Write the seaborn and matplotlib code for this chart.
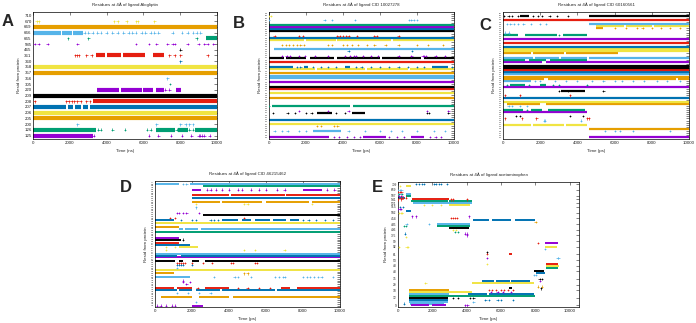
import matplotlib
matplotlib.use("Agg")
import matplotlib.pyplot as plt
import pandas as pd
import seaborn as sns

sns.set_theme(style="white")
plt.rcParams['font.family'] = ['Liberation Sans', 'DejaVu Sans']

# gnuplot default line colours
PAL = dict(P="#9400D3", G="#009E73", L="#56B4E9", O="#E69F00",
           Y="#F0E442", B="#0072B2", R="#E51E10", K="#000000")
CYCLE = "PGLOYBRK"
TIME_TICKS = [0, 2000, 4000, 6000, 8000, 10000]

# ---------------- Panel A : Alogliptin ----------------
A_TITLE = "Residues at 4Å of ligand Alogliptin"
A_RES = [125, 126, 200, 205, 206, 207, 208, 209, 220, 305, 356,
         357, 358, 360, 361, 465, 585, 665, 666, 669, 670, 710]
A_SEGS = {
    125: [(0, 3250)],
    126: [(0, 3400), (6700, 7700), (7900, 8400), (8800, 10000)],
    205: [(0, 10000)],
    206: [(0, 10000)],
    207: [(0, 1800), (1900, 2200), (2300, 2600), (2700, 3000), (3100, 10000)],
    208: [(3250, 10000)],
    209: [(0, 10000)],
    220: [(3500, 4700), (4800, 5900), (6000, 6500), (6700, 7100), (7750, 8050)],
    357: [(0, 10000)],
    358: [(0, 10000)],
    361: [(3400, 3900), (4000, 4800), (4900, 6100), (6500, 7100)],
    665: [(9400, 10000)],
    666: [(0, 1500), (1600, 2100), (2200, 2700)],
    669: [(0, 10000)],
}
A_PTS = {
    125: [3300, 6300, 6800, 7500, 8100, 8600, 9000, 9100, 9200, 9300, 9600],
    126: [3550, 3700, 4300, 5000, 6200, 6400, 7800, 8500, 8700],
    200: [2400, 6700, 8000, 8300, 8500, 8700],
    208: [100, 1800, 1950, 2100, 2250, 2400, 2600, 2900, 3100],
    220: [7200, 7400],
    305: [7450],
    356: [7300],
    360: [8000],
    361: [2300, 2400, 2500, 2900, 3200, 7400, 7700, 8000, 9500],
    465: [8000],
    585: [100, 300, 800, 2400, 5600, 6300, 6700, 7300, 7600, 7700, 8400,
          9000, 9300, 9500, 9800],
    665: [1900, 3000, 8900],
    666: [2800, 3000, 3250, 3500, 3700, 4000, 4300, 4600, 4900, 5200, 5400,
          5600, 5900, 6100, 6400, 6600, 6800, 7600, 8100, 8400, 8700, 8900, 9100],
    670: [200, 300, 4400, 4600, 5100, 5600, 5700, 6600],
}

# ---------------- Panel B : CID 10027278 ----------------
B_TITLE = "Residues at 4Å of ligand CID 10027278"
B_RES = [125, 126, 127, 128, 129, 130, 131, 132, 133, 134,
         200, 201, 202, 203, 204, 205, 206, 207, 208, 209,
         210, 211, 212, 218, 219, 220, 221, 222, 223, 224,
         225, 226, 227, 228, 229, 230, 231, 232, 301, 302,
         303, 305, 306, 307, 355, 356, 357, 358, 359, 360,
         361, 362, 363, 364, 365, 585, 666]
B_COL = {125: 'P', 128: 'L', 130: 'O', 131: 'Y', 133: 'B', 201: 'K', 202: 'P',
         204: 'G', 208: 'O', 210: 'Y', 212: 'R', 218: 'K', 220: 'P', 222: 'L',
         223: 'L', 224: 'O', 226: 'Y', 227: 'B', 229: 'R', 231: 'K', 232: 'P',
         302: 'B', 303: 'L', 306: 'O', 355: 'Y', 356: 'B', 357: 'R', 359: 'K',
         360: 'B', 361: 'P', 362: 'G', 364: 'L', 585: 'Y'}
B_SEGS = {
    125: [(0, 3250), (5100, 6300), (7700, 8400)],
    128: [(2400, 3900)],
    131: [(0, 10000)],
    133: [(0, 10000)],
    201: [(2600, 3400), (4500, 5200)],
    204: [(150, 4400), (4550, 10000)],
    208: [(0, 10000)],
    210: [(0, 10000)],
    212: [(0, 10000)],
    218: [(0, 10000)],
    220: [(0, 10000)],
    222: [(0, 10000)],
    223: [(0, 10000)],
    224: [(0, 10000)],
    226: [(0, 2500), (2600, 5200), (5300, 7500), (7600, 10000)],
    227: [(0, 1300), (1900, 2100), (4100, 4400), (8800, 9700)],
    229: [(0, 10000)],
    231: [(0, 800), (900, 2000), (2200, 3500), (3700, 6000), (6100, 8200), (8400, 10000)],
    303: [(250, 10000)],
    355: [(0, 1900), (2000, 3600), (3700, 6600), (6700, 10000)],
    356: [(0, 10000)],
    359: [(0, 10000)],
    360: [(0, 10000)],
    361: [(0, 10000)],
    362: [(0, 10000)],
}
B_PTS = {
    125: [3500, 3800, 4200, 4600, 4900, 6500, 6900, 7300, 8700, 9000, 9300],
    128: [300, 700, 1000, 1600, 2000, 4300, 5200, 6000, 6600, 7200, 8000, 8900, 9500],
    130: [2600, 2800, 3500, 3700],
    201: [200, 1000, 1400, 2000, 2300, 3600, 4100, 8550, 8650, 9700],
    202: [1600, 3200, 4300, 8550, 9700],
    204: [0],
    227: [1500, 1700, 2400, 2800, 3200, 3600, 4700, 5000, 5500, 6000, 6500,
          7000, 7500, 8000, 8400, 9900],
    232: [700, 950, 1150, 1600, 1950, 2500, 3200, 4100, 4400, 4600, 4700, 5100,
          5500, 5900, 7000, 7700, 8300, 8400, 8500, 9000, 9500],
    302: [4300, 7750],
    306: [700, 900, 1100, 1300, 1500, 1700, 1900, 3200, 3400, 4000, 4200, 4500,
          4800, 5300, 5700, 6300, 7000, 8000, 8600, 9400],
    357: [300, 1600, 1850, 3700, 3850, 4000, 4150, 4300, 4750, 5700, 5850, 7000],
    364: [0, 3000, 3400, 4650, 7550, 7700, 7850, 8000],
    585: [0, 100],
}

# ---------------- Panel C : CID 60160561 ----------------
C_TITLE = "Residues at 4Å of ligand CID 60160561"
C_RES = [125, 126, 127, 128, 129, 130, 131, 132, 133, 134,
         135, 198, 199, 200, 201, 202, 203, 204, 205, 206,
         207, 208, 209, 210, 211, 212, 213, 214, 215, 216,
         217, 218, 219, 220, 221, 222, 223, 224, 225, 226,
         227, 228, 229, 230, 231, 301, 302, 303, 304, 305,
         306, 355, 356, 357, 358, 359, 360, 361, 585, 741]
C_COL = {125: 'P', 128: 'L', 129: 'O', 131: 'Y', 133: 'L', 134: 'R', 135: 'K',
         199: 'P', 200: 'G', 202: 'L', 203: 'O', 204: 'Y', 206: 'B', 207: 'R',
         209: 'K', 211: 'P', 212: 'G', 214: 'L', 215: 'O', 216: 'O', 217: 'L',
         218: 'B', 219: 'R', 220: 'K', 221: 'K', 223: 'P', 224: 'G', 225: 'L',
         227: 'O', 228: 'Y', 229: 'Y', 230: 'B', 301: 'R', 303: 'P', 305: 'G',
         306: 'L', 356: 'O', 357: 'Y', 358: 'L', 360: 'R', 585: 'K'}
C_SEGS = {
    125: [(4600, 10000)],
    129: [(4600, 10000)],
    131: [(0, 1500), (1600, 3300), (3400, 4500)],
    199: [(0, 4500)],
    200: [(0, 1100), (1500, 2100), (2400, 4400)],
    203: [(200, 2000), (2300, 10000)],
    204: [(0, 10000)],
    206: [(0, 10000)],
    209: [(3100, 4400)],
    211: [(0, 10000)],
    212: [(400, 1200), (2000, 2300)],
    214: [(0, 1500)],
    215: [(0, 2200), (2400, 9300), (9400, 10000)],
    216: [(0, 10000)],
    217: [(0, 10000)],
    218: [(0, 10000)],
    219: [(0, 10000)],
    220: [(0, 10000)],
    221: [(0, 10000)],
    223: [(0, 2100), (2300, 10000)],
    224: [(0, 1200), (1400, 2300), (2500, 4500)],
    225: [(0, 1600), (1700, 3000), (3100, 4500), (4600, 10000)],
    227: [(0, 1500), (1600, 3300), (3400, 6200)],
    228: [(0, 10000)],
    229: [(0, 10000)],
    230: [(0, 10000)],
    301: [(0, 10000)],
    303: [(0, 10000)],
    305: [(0, 800), (1200, 2900), (3200, 4500)],
    356: [(5000, 5400)],
    357: [(5000, 6500), (6600, 8000), (8100, 10000)],
    358: [(4600, 10000)],
    360: [(0, 10000)],
    585: [(900, 1400), (4600, 10000)],
}
C_PTS = {
    128: [5500, 6000, 6300, 7000, 9000],
    133: [2200, 2250, 4200],
    134: [100, 1000, 1800, 4500, 4600],
    135: [700, 900, 3600, 4300],
    200: [1300],
    202: [300, 500, 900, 1300],
    207: [100, 900, 3600],
    209: [3000, 3500, 5400],
    212: [200, 1400, 2700, 3000, 4500],
    214: [1700, 2000, 2800, 3400, 4000, 4800, 5400, 6000, 6400, 7000, 7600, 8300, 8800, 9500],
    305: [3000],
    306: [100, 300],
    356: [6000, 6600, 7200, 7500, 8000, 8500, 9000, 9500],
    358: [200, 400, 600, 800, 1100, 1500, 2000, 2300],
    585: [50, 300, 500, 800, 1600, 1900, 2100, 2500, 2900, 3500],
}

# ---------------- Panel D : CID 46215462 ----------------
D_TITLE = "Residues at 4Å of ligand CID 46215462"
D_RES = [125, 126, 127, 128, 129, 130, 131, 132, 133, 134,
         135, 136, 137, 138, 198, 199, 200, 201, 202, 203,
         204, 205, 206, 207, 208, 209, 210, 211, 212, 213,
         214, 215, 216, 217, 218, 219, 220, 221, 222, 223,
         224, 225, 226, 227, 228, 229, 230, 231, 232, 233,
         234, 235, 236, 301, 302, 303, 304, 305, 306, 307,
         355, 356, 357, 358, 359, 360, 361, 585, 666, 710]
D_COL = {125: 'P', 127: 'L', 130: 'O', 132: 'L', 134: 'B', 135: 'R', 137: 'P',
         138: 'P', 198: 'P', 200: 'L', 202: 'O', 204: 'Y', 205: 'L', 207: 'B',
         208: 'R', 209: 'K', 211: 'P', 212: 'B', 213: 'L', 215: 'Y', 217: 'Y',
         218: 'B', 219: 'R', 221: 'K', 222: 'P', 225: 'G', 227: 'L', 228: 'O',
         230: 'Y', 232: 'B', 233: 'R', 235: 'K', 236: 'P', 303: 'L', 305: 'Y',
         306: 'O', 355: 'B', 357: 'R', 360: 'P', 585: 'G', 666: 'L'}
D_SEGS = {
    125: [(2000, 2600)],
    130: [(300, 2000), (2400, 4000), (4200, 10000)],
    134: [(0, 1200), (1300, 2000), (2200, 3500), (3600, 6500), (6600, 10000)],
    135: [(0, 1000), (1200, 2000), (2700, 4000), (6800, 7300), (7700, 10000)],
    200: [(0, 1900)],
    202: [(0, 1000)],
    204: [(0, 10000)],
    209: [(0, 1100), (1300, 1500), (2000, 2400), (2700, 10000)],
    211: [(0, 10000)],
    212: [(0, 1200), (1400, 10000)],
    213: [(0, 10000)],
    217: [(1300, 2300)],
    218: [(0, 1900)],
    219: [(0, 1300)],
    221: [(0, 1400)],
    222: [(0, 1300)],
    225: [(0, 10000)],
    227: [(1300, 1500), (1600, 2300), (2500, 10000)],
    228: [(0, 1300)],
    230: [(0, 10000)],
    232: [(0, 1000), (3600, 4500), (4700, 5200), (5400, 6200), (6400, 7100), (7300, 7800)],
    235: [(2600, 10000)],
    306: [(2000, 3500), (3600, 5800), (6000, 8300), (8500, 10000)],
    355: [(2000, 10000)],
    357: [(2000, 4000), (4100, 7000), (7100, 10000)],
    360: [(2000, 2500), (8000, 9000)],
    585: [(2600, 10000)],
    666: [(0, 1300), (1900, 10000)],
}
D_PTS = {
    125: [100, 300, 600, 900, 1100],
    127: [2200],
    132: [1200, 1800, 2400, 3000],
    135: [2300, 4500, 5000, 5600, 6200],
    137: [1700],
    138: [1500, 1900],
    198: [1500],
    200: [3200, 4300, 4500, 5200, 6500, 6700, 6900, 7000, 8000, 8200, 8400,
          8600, 8800, 9000, 9600],
    202: [4800, 5000],
    205: [1200],
    207: [1200, 1300, 1400, 1500, 2000],
    208: [1200, 1300, 1400, 1500, 1600, 2000, 2600, 3100, 4100, 4200, 5400, 5500],
    215: [600, 4800, 5400, 7000],
    217: [600, 1100],
    221: [1500],
    232: [1400, 2000, 2200, 3000, 3200, 3400, 8000, 8300, 8700, 9200, 9600],
    233: [800, 1100, 4800],
    236: [1200, 1300, 1500, 1700, 2400],
    303: [2200],
    305: [2200, 4800, 5000, 8500],
    360: [2800, 3000, 3300, 3600, 4000, 4500, 4700, 5200, 5600, 6000, 6600,
          7000, 9300, 9700],
    666: [1500, 1700],
}

# ---------------- Panel E : acetaminophen ----------------
E_TITLE = "Residues at 4Å of ligand acetaminophen"
E_TICK_LABELS = [9, 12, 18, 29, 35, 43, 48, 53, 61, 92, 99, 375, 406,
                 435, 454, 502, 515, 521, 541, 587, 659, 709]
E_TICK_ROWS = [0, 4, 8, 11, 14, 18, 21, 24, 27, 31, 34, 37, 40,
               43, 46, 49, 52, 54, 56, 58, 61, 64]
# (row, colour, contact intervals, isolated contacts)
E_TRACES = [
    (64, 'B', [], [1030, 1220, 1420, 1500, 2100, 2190, 2390, 2490, 2870]),
    (63, 'Y', [(450, 740)], [100]),
    (61, 'L', [], [0, 100, 200]),
    (60, 'R', [], [0, 100, 200]),
    (59, 'L', [(450, 750)], [0, 150]),
    (59, 'G', [], [50, 250]),
    (58, 'G', [(450, 750)], []),
    (58, 'P', [], [50, 200]),
    (57, 'B', [(0, 400)], []),
    (57, 'R', [], [150, 300, 450]),
    (56, 'R', [(800, 3000)], [0, 200, 3100, 3200, 4000]),
    (55, 'G', [(750, 2900), (3000, 4300)], []),
    (54, 'L', [(900, 4300)], []),
    (53, 'Y', [(3000, 4200)], [1500, 2000, 2500]),
    (52, 'B', [], [100, 300]),
    (51, 'P', [], [0, 100, 150]),
    (50, 'B', [(450, 750)], []),
    (49, 'Y', [], [50, 200, 250]),
    (47, 'P', [], [830, 1030, 4140]),
    (46, 'R', [], [3100, 3200, 3300, 3450]),
    (45, 'B', [(4370, 5300), (5450, 6600), (6800, 8000)], []),
    (44, 'O', [], [8020]),
    (43, 'L', [(2300, 4200)], [500, 1800]),
    (42, 'G', [(2300, 4200)], [350, 450]),
    (41, 'K', [(3000, 4150)], []),
    (40, 'Y', [], [3200, 3400]),
    (39, 'G', [], [3300, 3500]),
    (38, 'P', [], [3900, 4000]),
    (38, 'B', [], [400]),
    (37, 'P', [], [4000]),
    (36, 'Y', [], [485]),
    (33, 'P', [(8550, 9300)], []),
    (33, 'R', [], [8160]),
    (31, 'Y', [(8550, 9250)], [60, 500, 580]),
    (30, 'L', [], [8570]),
    (28, 'K', [], [5200]),
    (27, 'R', [(6450, 6650)], [5200]),
    (25, 'P', [], [5200]),
    (25, 'L', [], [9300, 9350]),
    (22, 'Y', [], [5200]),
    (22, 'R', [(8600, 9350)], []),
    (21, 'Y', [(8600, 9400)], []),
    (20, 'G', [(8650, 9300)], []),
    (18, 'K', [(7950, 8500)], []),
    (17, 'B', [(8050, 8550)], []),
    (16, 'L', [], [7950, 8050]),
    (14, 'K', [], [8250, 8400]),
    (13, 'B', [(4900, 5600), (5700, 6500), (6600, 7700)], []),
    (13, 'P', [], [8300]),
    (12, 'Y', [(4330, 7950)], [1600]),
    (10, 'O', [], [8150, 8400]),
    (9, 'K', [(6480, 6620)], [8350]),
    (8, 'R', [], [5300, 5500, 5700, 6000, 6200, 6400, 6700]),
    (8, 'O', [(650, 3000)], []),
    (7, 'Y', [(650, 4300)], []),
    (7, 'P', [], [5400, 5800, 6100, 6600]),
    (6, 'B', [(4100, 5200), (5300, 7950)], []),
    (6, 'L', [(650, 3000)], []),
    (5, 'G', [(650, 8000)], []),
    (4, 'K', [(650, 2900)], [3200, 3500, 4200, 4400]),
    (3, 'B', [(650, 2900)], [5100, 5300, 5800, 6000, 6700]),
    (2, 'L', [(650, 2900)], [4400]),
    (1, 'L', [(700, 2700)], []),
    (1, 'B', [], [350]),
    (0, 'P', [(750, 1800), (2000, 2800)], [3900, 4050]),
]

FS = 3.2
W, H = 696, 323


def box(l, t, r, b):
    return [l / W, 1 - b / H, (r - l) / W, (b - t) / H]


def style(ax, title, xlabel, xmax, ylim, yfs):
    ax.set_xlim(0, xmax)
    ax.set_ylim(*ylim)
    ax.set_xticks(TIME_TICKS)
    ax.set_xticklabels([str(v) for v in TIME_TICKS])
    ax.tick_params(direction='in', length=2, width=0.4, labelsize=FS,
                   top=True, right=True, pad=1.5, colors='#222222')
    ax.tick_params(axis='y', labelsize=yfs, pad=1)
    for s in ax.spines.values():
        s.set_linewidth(0.5)
        s.set_color('black')
    ax.set_title(title, fontsize=FS, pad=4)
    ax.set_xlabel(xlabel, fontsize=FS, labelpad=2.5)
    ax.set_ylabel("Resid from protein", fontsize=FS, labelpad=2)
    ax.grid(False)


def draw_panel(ax, res, colmap, segs, pts, lw, ms):
    ypos = {r: i for i, r in enumerate(res)}
    srows = [(ypos[r], a, b, colmap[r]) for r in segs for (a, b) in segs[r]]
    sdf = pd.DataFrame(srows, columns=['y', 't0', 't1', 'c'])
    ax.hlines(sdf['y'], sdf['t0'], sdf['t1'], colors=[PAL[c] for c in sdf['c']],
              linewidth=lw, zorder=2)
    prows = [(ypos[r], t, colmap[r]) for r in pts for t in pts[r]]
    pdf = pd.DataFrame(prows, columns=['y', 't', 'c'])
    sns.scatterplot(data=pdf, x='t', y='y', hue='c', palette=PAL, marker='+',
                    s=ms, linewidth=0.5, legend=False, ax=ax, zorder=3)
    ax.set_yticks(range(len(res)))
    ax.set_yticklabels([str(r) for r in res])


fig = plt.figure(figsize=(W / 100, H / 100), dpi=100)

# A
axA = fig.add_axes(box(33, 12, 217, 139))
A_COL = {r: CYCLE[i % 8] for i, r in enumerate(A_RES)}
draw_panel(axA, A_RES, A_COL, A_SEGS, A_PTS, lw=3.0, ms=4)
style(axA, A_TITLE, "Time (ns)", 10000, (-0.6, len(A_RES) - 0.4), 3.2)

# B
axB = fig.add_axes(box(269, 12, 454, 139))
draw_panel(axB, B_RES, B_COL, B_SEGS, B_PTS, lw=1.6, ms=2.5)
style(axB, B_TITLE, "Time (ps)", 10000, (-0.8, len(B_RES) - 0.2), 1.35)

# C
axC = fig.add_axes(box(503, 12, 689, 139))
draw_panel(axC, C_RES, C_COL, C_SEGS, C_PTS, lw=1.6, ms=2.5)
style(axC, C_TITLE, "Time (ps)", 10000, (-0.8, len(C_RES) - 0.2), 1.3)

# D
axD = fig.add_axes(box(155, 181, 340, 307))
draw_panel(axD, D_RES, D_COL, D_SEGS, D_PTS, lw=1.4, ms=2.5)
style(axD, D_TITLE, "Time (ps)", 10000, (-0.8, len(D_RES) - 0.2), 1.1)

# E
axE = fig.add_axes(box(398, 182, 579, 307))
esegs = [(row, a, b, c) for (row, c, sg, pt) in E_TRACES for (a, b) in sg]
edf = pd.DataFrame(esegs, columns=['y', 't0', 't1', 'c'])
axE.hlines(edf['y'], edf['t0'], edf['t1'], colors=[PAL[c] for c in edf['c']],
           linewidth=1.4, zorder=2)
epts = [(row, t, c) for (row, c, sg, pt) in E_TRACES for t in pt]
epdf = pd.DataFrame(epts, columns=['y', 't', 'c'])
sns.scatterplot(data=epdf, x='t', y='y', hue='c', palette=PAL, marker='+',
                s=2.5, linewidth=0.5, legend=False, ax=axE, zorder=3)
axE.set_yticks(E_TICK_ROWS)
axE.set_yticklabels([str(v) for v in E_TICK_LABELS])
style(axE, E_TITLE, "Time (ps)", 10550, (-0.8, 65.2), 2.3)

# panel letters
for letter, (x, y) in {"A": (8, 21), "B": (239, 24), "C": (485, 26),
                       "D": (126, 187), "E": (377, 187)}.items():
    fig.text(x / W, 1 - y / H, letter, fontsize=12, fontweight='bold',
             ha='center', va='center')

fig.savefig("out.png", dpi=100)
